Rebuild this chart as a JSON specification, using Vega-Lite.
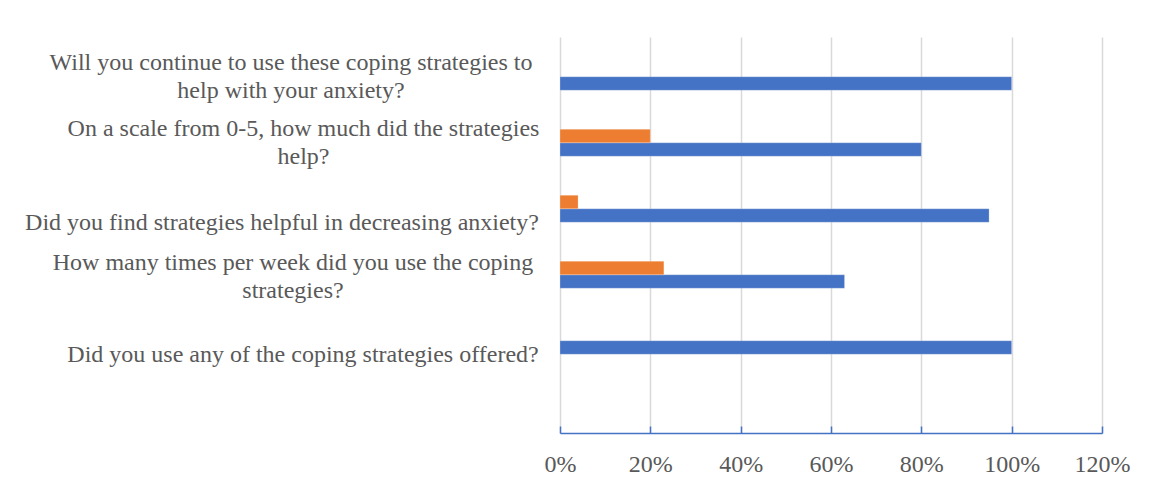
{
  "$schema": "https://vega.github.io/schema/vega-lite/v6.json",
  "width": 542,
  "height": 396,
  "autosize": {"type": "none"},
  "padding": {"left": 560, "top": 37, "right": 53, "bottom": 55},
  "background": "#ffffff",
  "config": {
    "view": {"stroke": null},
    "font": "Liberation Serif"
  },
  "data": {
    "values": [
      {"question": "Will you continue to use these coping strategies to help with your anxiety?", "series": "Series 1", "value": 1.00},
      {"question": "On a scale from 0-5, how much did the strategies help?", "series": "Series 1", "value": 0.80},
      {"question": "On a scale from 0-5, how much did the strategies help?", "series": "Series 2", "value": 0.20},
      {"question": "Did you find strategies helpful in decreasing anxiety?", "series": "Series 1", "value": 0.95},
      {"question": "Did you find strategies helpful in decreasing anxiety?", "series": "Series 2", "value": 0.04},
      {"question": "How many times per week did you use the coping strategies?", "series": "Series 1", "value": 0.63},
      {"question": "How many times per week did you use the coping strategies?", "series": "Series 2", "value": 0.23},
      {"question": "Did you use any of the coping strategies offered?", "series": "Series 1", "value": 1.00}
    ]
  },
  "mark": {"type": "bar", "stroke": "#ffffff", "strokeOpacity": 0.35, "strokeWidth": 0.7},
  "encoding": {
    "y": {
      "field": "question",
      "type": "nominal",
      "scale": {
        "domain": [
          "Will you continue to use these coping strategies to help with your anxiety?",
          "On a scale from 0-5, how much did the strategies help?",
          "Did you find strategies helpful in decreasing anxiety?",
          "How many times per week did you use the coping strategies?",
          "Did you use any of the coping strategies offered?",
          " "
        ],
        "paddingInner": 0.386,
        "paddingOuter": 0.193
      },
      "axis": {
        "title": null,
        "domain": false,
        "ticks": false,
        "grid": false,
        "labelFont": "Liberation Serif",
        "labelFontSize": 24,
        "labelLineHeight": 28,
        "labelColor": "#595959",
        "labelAlign": "center",
        "labelBaseline": "middle",
        "labelLimit": 0,
        "labelOverlap": false,
        "labelExpr": "datum.value == 'Will you continue to use these coping strategies to help with your anxiety?' ? ['Will you continue to use these coping strategies to', 'help with your anxiety?'] : datum.value == 'On a scale from 0-5, how much did the strategies help?' ? ['On a scale from 0-5, how much did the strategies', 'help?'] : datum.value == 'How many times per week did you use the coping strategies?' ? ['How many times per week did you use the coping', 'strategies?'] : datum.value",
        "labelPadding": {"expr": "datum.value == 'Will you continue to use these coping strategies to help with your anxiety?' ? 269.5 : datum.value == 'On a scale from 0-5, how much did the strategies help?' ? 257 : datum.value == 'Did you find strategies helpful in decreasing anxiety?' ? 278.5 : datum.value == 'How many times per week did you use the coping strategies?' ? 267.5 : 257.5"},
        "labelOffset": {"expr": "datum.value == 'Will you continue to use these coping strategies to help with your anxiety?' ? -7.5 : datum.value == 'On a scale from 0-5, how much did the strategies help?' ? -7.5 : datum.value == 'Did you find strategies helpful in decreasing anxiety?' ? 20.5 : datum.value == 'How many times per week did you use the coping strategies?' ? -5.5 : 20.5"}
      }
    },
    "yOffset": {
      "field": "series",
      "type": "nominal",
      "scale": {"domain": ["Series 3", "Series 2", "Series 1"], "paddingInner": 0, "paddingOuter": 0}
    },
    "x": {
      "field": "value",
      "type": "quantitative",
      "scale": {"domain": [0, 1.2], "nice": false},
      "axis": {
        "title": null,
        "values": [0, 0.2, 0.4, 0.6, 0.8, 1.0, 1.2],
        "format": ".0%",
        "grid": true,
        "gridColor": "#D9D9D9",
        "gridWidth": 1.5,
        "domain": true,
        "domainColor": "#4472C4",
        "domainWidth": 1.5,
        "ticks": true,
        "tickColor": "#4472C4",
        "tickWidth": 1.5,
        "tickSize": -7,
        "labelFont": "Liberation Serif",
        "labelFontSize": 24,
        "labelColor": "#595959",
        "labelPadding": 38,
        "labelBaseline": "middle",
        "labelFlush": false,
        "labelOverlap": false
      }
    },
    "color": {
      "field": "series",
      "type": "nominal",
      "scale": {"domain": ["Series 1", "Series 2", "Series 3"], "range": ["#4472C4", "#ED7D31", "#A5A5A5"]},
      "legend": null
    }
  }
}
